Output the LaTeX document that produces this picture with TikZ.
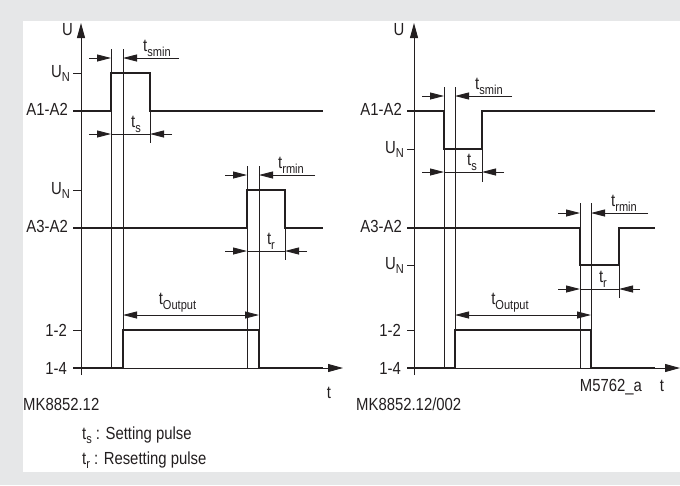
\documentclass[tikz,border=0pt]{standalone}
\usepackage{fontspec}
\setmainfont[FakeStretch=0.85]{Liberation Sans}
\usepackage{tikz}
\usetikzlibrary{arrows.meta}
\definecolor{panelgray}{RGB}{230,231,232}
\definecolor{ink}{RGB}{35,31,32}
\newcommand{\lowidx}[1]{\raisebox{-0.28em}{\fontsize{13}{14}\selectfont #1}}

\begin{document}
\begin{tikzpicture}[
    x=1pt, y=-1pt,
    font=\fontsize{17.5}{20}\selectfont,
    every node/.style={text=ink},
    % signal and helper lines
    sig/.style={draw=ink, line width=2.5pt, line join=miter},
    thinln/.style={draw=ink, line width=0.9pt},
    dim/.style={thinln, -{Triangle[length=14pt,width=7pt]}},
    dimboth/.style={thinln, {Triangle[length=14pt,width=7pt]}-{Triangle[length=14pt,width=7pt]}},
    axis/.style={thinln, -{Triangle[length=15pt,width=8pt]}},
    lvl/.style={anchor=base east, inner sep=0pt},
    dimlbl/.style={anchor=south, inner sep=0pt},
]

% background
\fill[panelgray] (0,0) rectangle (680,485);
\fill[white] (23,21) rectangle (680,472);
\useasboundingbox (0,0) rectangle (680,485);

% =========================================================
% Left panel: positive pulses
% =========================================================
\begin{scope}[shift={(81,0)}]
% axes
\draw[axis] (0,375) -- (0,23);
\draw[axis] (0,368) -- (262,368);
\node[anchor=base, inner sep=0pt] (uL) at (-13.5,35) {U};
\node[anchor=base, inner sep=0pt] (tL) at (248,398) {t};

% level ticks and labels
\draw[thinln] (-8,73) -- (0,73);
\draw[thinln] (-8,190) -- (0,190);
\draw[thinln] (-8,330) -- (0,330);
\node[lvl] (un1L) at (-11,77) {U\lowidx{N}};
\node[lvl] (a1L) at (-13,115) {A1-A2};
\node[lvl] (un2L) at (-11,194) {U\lowidx{N}};
\node[lvl] (a3L) at (-13,232) {A3-A2};
\node[lvl] (o12L) at (-14,336) {1-2};
\node[lvl] (o14L) at (-14,374) {1-4};

% time marks
\draw[thinln] (30,49) -- (30,368);
\draw[thinln] (42,49) -- (42,368);
\draw[thinln] (166,166) -- (166,368);
\draw[thinln] (178,166) -- (178,368);
\draw[thinln] (69,111) -- (69,143);
\draw[thinln] (204,228) -- (204,260);

% signals
\draw[sig] (-8,111) -- (30,111) -- (30,73) -- (69,73) -- (69,111) -- (242,111);
\draw[sig] (-8,228) -- (166,228) -- (166,190) -- (204,190) -- (204,228) -- (242,228);
\draw[sig] (-8,368) -- (42,368) -- (42,330) -- (178,330) -- (178,368) -- (242,368);

% dimensions
\draw[dim] (8,58) -- (30,58);
\draw[dim] (98,58) -- (42,58);
\node[anchor=south west, inner sep=0pt] (tsminL) at (62,57) {t\lowidx{smin}};
\draw[dim] (8,134) -- (30,134);
\draw[thinln] (30,134) -- (69,134);
\draw[dim] (91,134) -- (69,134);
\node[dimlbl] (tsL) at (55,133) {t\lowidx{s}};

\draw[dim] (144,175) -- (166,175);
\draw[dim] (234,175) -- (178,175);
\node[anchor=south west, inner sep=0pt] (trminL) at (197,174) {t\lowidx{rmin}};
\draw[dim] (144,251) -- (166,251);
\draw[thinln] (166,251) -- (204,251);
\draw[dim] (226,251) -- (204,251);
\node[dimlbl] (trL) at (190,250) {t\lowidx{r}};

\draw[dimboth] (42,315) -- (178,315);
\node[dimlbl] (toutL) at (96.5,312) {t\lowidx{Output}};
\end{scope}

% =========================================================
% Right panel: negative pulses
% =========================================================
\begin{scope}[shift={(414,0)}]
% axes
\draw[axis] (0,375) -- (0,23);
\draw[axis] (0,368) -- (266,368);
\node[anchor=base, inner sep=0pt] (uR) at (-15,35) {U};
\node[anchor=base, inner sep=0pt] (tR) at (248,391) {t};
\node[anchor=base, inner sep=0pt] (codeR) at (197,391) {M5762\_a};

% level ticks and labels
\draw[thinln] (-7,149) -- (0,149);
\draw[thinln] (-7,265) -- (0,265);
\draw[thinln] (-7,330) -- (0,330);
\node[lvl] (a1R) at (-12,115) {A1-A2};
\node[lvl] (un1R) at (-10,153) {U\lowidx{N}};
\node[lvl] (a3R) at (-12,232) {A3-A2};
\node[lvl] (un2R) at (-10,269) {U\lowidx{N}};
\node[lvl] (o12R) at (-13,336) {1-2};
\node[lvl] (o14R) at (-13,374) {1-4};

% time marks
\draw[thinln] (30,87) -- (30,368);
\draw[thinln] (41,87) -- (41,368);
\draw[thinln] (166,203) -- (166,368);
\draw[thinln] (177,203) -- (177,368);
\draw[thinln] (68,149) -- (68,182);
\draw[thinln] (205,265) -- (205,298);

% signals
\draw[sig] (-7,111) -- (30,111) -- (30,149) -- (68,149) -- (68,111) -- (241,111);
\draw[sig] (-7,228) -- (166,228) -- (166,265) -- (205,265) -- (205,228) -- (241,228);
\draw[sig] (-7,368) -- (41,368) -- (41,330) -- (177,330) -- (177,368) -- (241,368);

% dimensions
\draw[dim] (8,96) -- (30,96);
\draw[dim] (98,96) -- (41,96);
\node[anchor=south west, inner sep=0pt] (tsminR) at (61,95) {t\lowidx{smin}};
\draw[dim] (8,172) -- (30,172);
\draw[thinln] (30,172) -- (68,172);
\draw[dim] (90,172) -- (68,172);
\node[dimlbl] (tsR) at (58,171) {t\lowidx{s}};

\draw[dim] (144,213) -- (166,213);
\draw[dim] (234,213) -- (177,213);
\node[anchor=south west, inner sep=0pt] (trminR) at (197,212) {t\lowidx{rmin}};
\draw[dim] (144,289) -- (166,289);
\draw[thinln] (166,289) -- (205,289);
\draw[dim] (226,289) -- (205,289);
\node[dimlbl] (trR) at (189,288) {t\lowidx{r}};

\draw[dimboth] (41,315) -- (177,315);
\node[dimlbl] (toutR) at (96,312) {t\lowidx{Output}};
\end{scope}

% type codes and legend
\node[anchor=base west, inner sep=0pt] (typeL) at (23,410) {MK8852.12};
\node[anchor=base west, inner sep=0pt] (typeR) at (356,410) {MK8852.12/002};
\node[anchor=base west, inner sep=0pt] (legS) at (82,439) {t\lowidx{s} : Setting pulse};
\node[anchor=base west, inner sep=0pt] (legR) at (82,464) {t\lowidx{r} : Resetting pulse};

\end{tikzpicture}
\end{document}
